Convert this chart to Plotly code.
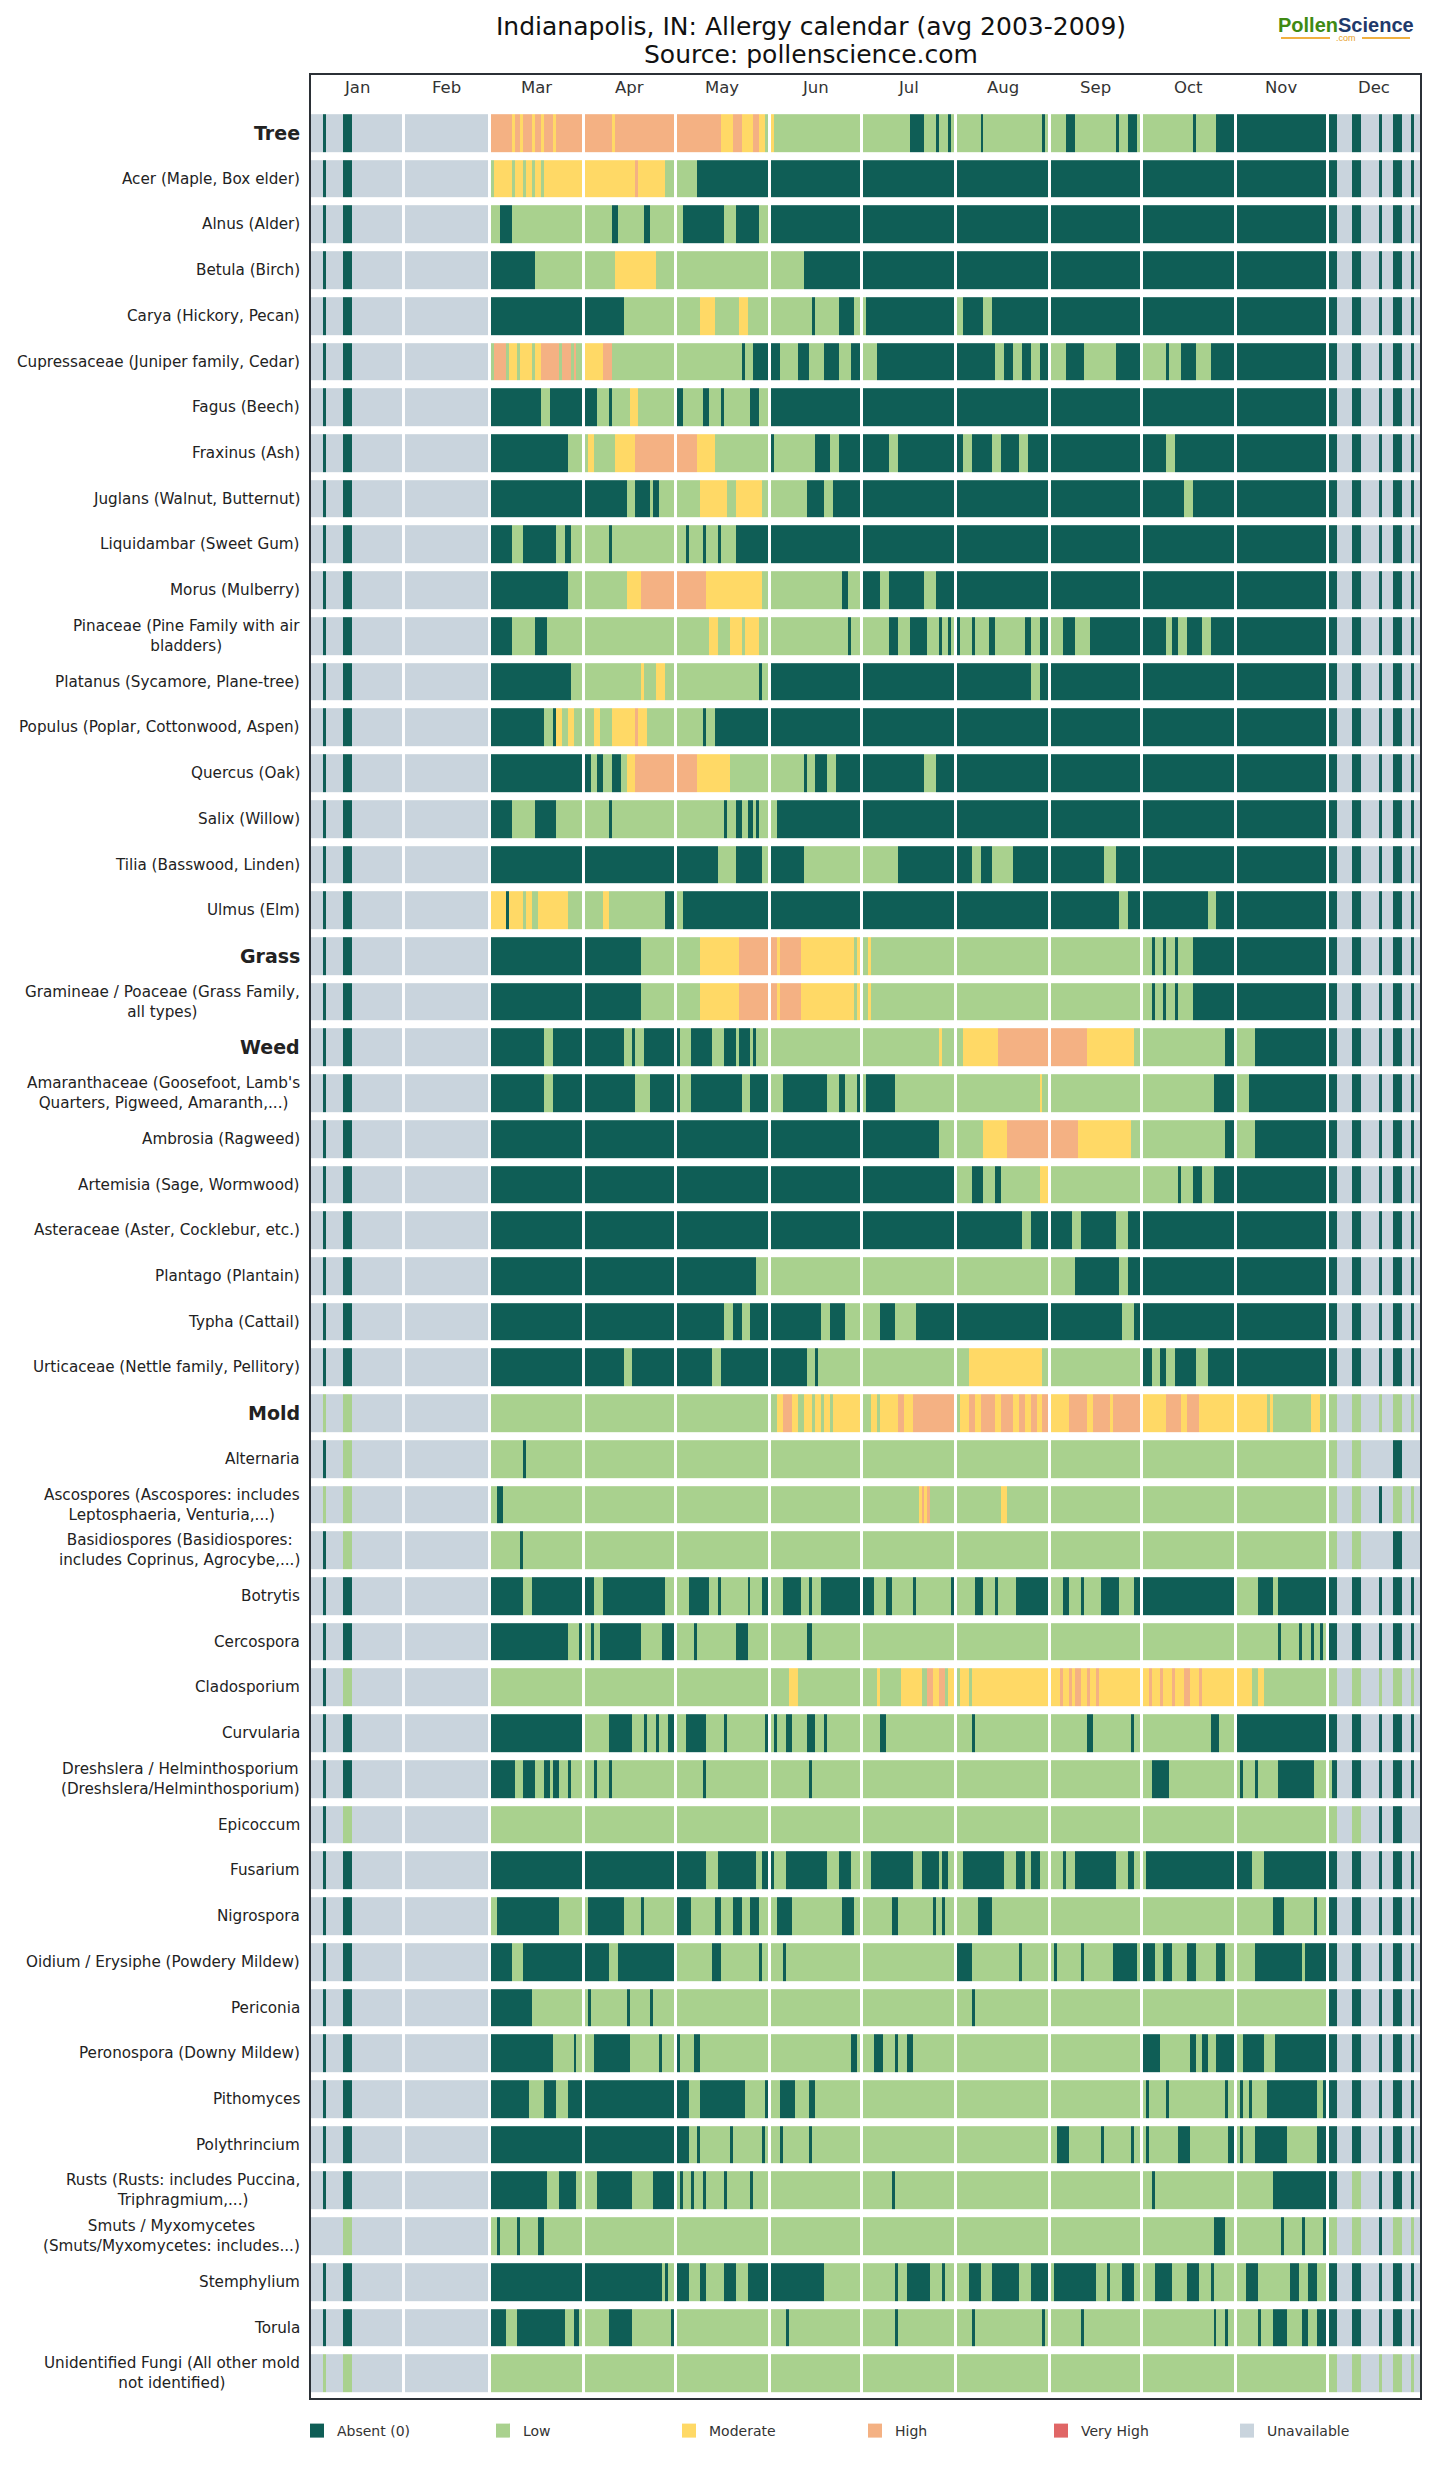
import plotly.graph_objects as go

# ---------------- data ----------------
month_names = ["Jan", "Feb", "Mar", "Apr", "May", "Jun", "Jul", "Aug", "Sep", "Oct", "Nov", "Dec"]
month_days = [31, 28, 31, 30, 31, 30, 31, 31, 30, 31, 30, 31]

level_names = ["Absent (0)", "Low", "Moderate", "High", "Very High", "Unavailable"]
level_codes = ["A", "L", "M", "H", "V", "U"]
level_colors = ["#0f5e56", "#a9d18e", "#ffd966", "#f4b183", "#e06666", "#c9d4dd"]

group_names = ["Tree", "Grass", "Weed", "Mold"]

tree_labels = [
    "Tree", "Acer (Maple, Box elder)", "Alnus (Alder)", "Betula (Birch)", "Carya (Hickory, Pecan)",
    "Cupressaceae (Juniper family, Cedar)", "Fagus (Beech)", "Fraxinus (Ash)", "Juglans (Walnut, Butternut)",
    "Liquidambar (Sweet Gum)", "Morus (Mulberry)", "Pinaceae (Pine Family with air<br>bladders)",
    "Platanus (Sycamore, Plane-tree)", "Populus (Poplar, Cottonwood, Aspen)", "Quercus (Oak)",
    "Salix (Willow)", "Tilia (Basswood, Linden)", "Ulmus (Elm)",
]
grass_labels = ["Grass", "Gramineae / Poaceae (Grass Family,<br>all types)"]
weed_labels = [
    "Weed", "Amaranthaceae (Goosefoot, Lamb's<br>Quarters, Pigweed, Amaranth,...)", "Ambrosia (Ragweed)",
    "Artemisia (Sage, Wormwood)", "Asteraceae (Aster, Cocklebur, etc.)", "Plantago (Plantain)",
    "Typha (Cattail)", "Urticaceae (Nettle family, Pellitory)",
]
mold_labels = [
    "Mold", "Alternaria", "Ascospores (Ascospores: includes<br>Leptosphaeria, Venturia,...)",
    "Basidiospores (Basidiospores:<br>includes Coprinus, Agrocybe,...)", "Botrytis", "Cercospora",
    "Cladosporium", "Curvularia", "Dreshslera / Helminthosporium<br>(Dreshslera/Helminthosporium)",
    "Epicoccum", "Fusarium", "Nigrospora", "Oidium / Erysiphe (Powdery Mildew)", "Periconia",
    "Peronospora (Downy Mildew)", "Pithomyces", "Polythrincium",
    "Rusts (Rusts: includes Puccina,<br>Triphragmium,...)", "Smuts / Myxomycetes<br>(Smuts/Myxomycetes: includes...)",
    "Stemphylium", "Torula", "Unidentified Fungi (All other mold<br>not identified)",
]

# daily levels, run-length per month (A=absent, L=low, M=moderate, H=high, V=very high, U=unavailable)
tree_runs = [
    "U4 A1 U6 A3 U17|U28|H7 M1 H2 M1 H3 M1 H2 M1 H3 M1 H9|H9 M1 H20|H15 M4 H3 M4 H2 M2 L1|M1 L29|L16 A5 L4 A1 L3 A1 L1|L8 A1 L20 A1 L1|L5 A3 L14 A1 L3 A3 L1|L17 A1 L7 A6|A30|A3 U5 A3 U6 A1 U4 A3 U3 A1 U2",
    "U4 A1 U6 A3 U17|U28|L1 M6 L1 M3 L1 M2 L1 M2 L1 M13|M17 H1 M9 L3|L7 A24|A30|A31|A31|A30|A31|A30|A3 U5 A3 U6 A1 U4 A3 U3 A1 U2",
    "U4 A1 U6 A3 U17|U28|L3 A4 L24|L9 A2 L9 A2 L8|L2 A14 L4 A8 L3|A30|A31|A31|A30|A31|A30|A3 U5 A3 U6 A1 U4 A3 U3 A1 U2",
    "U4 A1 U6 A3 U17|U28|A15 L16|L10 M14 L6|L31|L11 A19|A31|A31|A30|A31|A30|A3 U5 A3 U6 A1 U4 A3 U3 A1 U2",
    "U4 A1 U6 A3 U17|U28|A31|A13 L17|L8 M5 L8 M3 L7|L14 A1 L8 A5 L2|L1 A30|L2 A7 L3 A19|A30|A31|A30|A3 U5 A3 U6 A1 U4 A3 U3 A1 U2",
    "U4 A1 U6 A3 U17|U28|L1 H4 L1 M3 L1 M4 L1 M2 H6 L1 H3 L1 H1 L2|M6 H3 L21|L22 A1 L3 A5|A3 L6 A4 L5 A5 L4 A3|L5 A26|A13 L3 A3 L3 A3 L3 A3|L5 A6 L11 A8|L8 A1 L4 A5 L5 A8|A30|A3 U5 A3 U6 A1 U4 A3 U3 A1 U2",
    "U4 A1 U6 A3 U17|U28|A17 L3 A11|A4 L4 A1 L6 M3 L12|A2 L7 A2 L4 A1 L9 A3 L3|A30|A31|A31|A30|A31|A30|A3 U5 A3 U6 A1 U4 A3 U3 A1 U2",
    "U4 A1 U6 A3 U17|U28|A26 L5|L1 M2 L7 M7 H13|H7 M6 L18|A1 L14 A5 L3 A7|A9 L3 A19|A2 L3 A7 L3 A6 L3 A7|A30|A8 L3 A20|A30|A3 U5 A3 U6 A1 U4 A3 U3 A1 U2",
    "U4 A1 U6 A3 U17|U28|A31|A14 L3 A5 L1 A2 L5|L8 M9 L3 M9 L2|L12 A6 L3 A9|A31|A31|A30|A14 L3 A14|A30|A3 U5 A3 U6 A1 U4 A3 U3 A1 U2",
    "U4 A1 U6 A3 U17|U28|A7 L4 A11 L3 A2 L4|L8 A1 L21|L3 A1 L5 A1 L4 A1 L5 A11|A30|A31|A31|A30|A31|A30|A3 U5 A3 U6 A1 U4 A3 U3 A1 U2",
    "U4 A1 U6 A3 U17|U28|A26 L5|L14 M5 H11|H10 M19 L2|L24 A2 L4|A6 L3 A12 L4 A6|A31|A30|A31|A30|A3 U5 A3 U6 A1 U4 A3 U3 A1 U2",
    "U4 A1 U6 A3 U17|U28|A7 L8 A4 L12|L30|L11 M3 L4 M4 L1 M5 L3|L26 A1 L3|L9 A3 L4 A6 L4 A1 L2 A1 L1|A1 L4 A1 L5 A2 L10 A2 L3 A3|L4 A4 L5 A17|A8 L2 A2 L3 A5 L3 A8|A30|A3 U5 A3 U6 A1 U4 A3 U3 A1 U2",
    "U4 A1 U6 A3 U17|U28|A27 L4|L19 M1 L4 M3 L3|L28 A1 L2|A30|A31|A25 L3 A3|A30|A31|A30|A3 U5 A3 U6 A1 U4 A3 U3 A1 U2",
    "U4 A1 U6 A3 U17|U28|A18 L3 A1 M2 L2 M2 L3|L3 M2 L4 M8 H1 M3 L9|L9 A1 L3 A18|A30|A31|A31|A30|A31|A30|A3 U5 A3 U6 A1 U4 A3 U3 A1 U2",
    "U4 A1 U6 A3 U17|U28|A31|A2 L2 A2 L3 A3 L2 M3 H13|H7 M11 L13|L11 A1 L3 A4 L3 A8|A21 L4 A6|A31|A30|A31|A30|A3 U5 A3 U6 A1 U4 A3 U3 A1 U2",
    "U4 A1 U6 A3 U17|U28|A7 L8 A7 L9|L8 A1 L21|L16 A1 L3 A2 L2 A2 L1 A1 L3|L2 A28|A31|A31|A30|A31|A30|A3 U5 A3 U6 A1 U4 A3 U3 A1 U2",
    "U4 A1 U6 A3 U17|U28|A31|A30|A14 L6 A9 L2|A11 L19|L12 A19|A5 L3 A4 L7 A12|A18 L4 A8|A31|A30|A3 U5 A3 U6 A1 U4 A3 U3 A1 U2",
    "U4 A1 U6 A3 U17|U28|M5 A1 M5 L1 M2 L2 M10 L5|L6 M2 L19 A3|L2 A29|A30|A31|A31|A23 L3 A4|A22 L3 A6|A30|A3 U5 A3 U6 A1 U4 A3 U3 A1 U2",
]
grass_runs = [
    "U4 A1 U6 A3 U17|U28|A31|A19 L11|L8 M13 H10|H2 M1 H7 M18 L1 M1|L2 M1 L28|L31|L30|L3 A1 L3 A1 L3 A1 L5 A14|A30|A3 U5 A3 U6 A1 U4 A3 U3 A1 U2",
    "U4 A1 U6 A3 U17|U28|A31|A19 L11|L8 M13 H10|H2 M1 H7 M18 L1 M1|L2 M1 L28|L31|L30|L3 A1 L3 A1 L3 A1 L5 A14|A30|A3 U5 A3 U6 A1 U4 A3 U3 A1 U2",
]
weed_runs = [
    "U4 A1 U6 A3 U17|U28|A18 L3 A10|A13 L3 A1 L3 A10|A1 L4 A7 L4 A4 L1 A4 L1 A1 L4|L30|L26 M1 L4|L2 M12 H17|H12 M16 L2|L28 A3|L6 A24|A3 U5 A3 U6 A1 U4 A3 U3 A1 U2",
    "U4 A1 U6 A3 U17|U28|A18 L3 A10|A17 L5 A8|A1 L4 A17 L3 A6|L4 A15 L4 A2 L4 A1|L1 A10 L20|L28 M1 L2|L30|L24 A7|L4 A26|A3 U5 A3 U6 A1 U4 A3 U3 A1 U2",
    "U4 A1 U6 A3 U17|U28|A31|A30|A31|A30|A26 L5|L9 M8 H14|H9 M18 L3|L28 A3|L6 A24|A3 U5 A3 U6 A1 U4 A3 U3 A1 U2",
    "U4 A1 U6 A3 U17|U28|A31|A30|A31|A30|A31|L5 A4 L4 A2 L13 M3|L30|L12 A1 L4 A3 L4 A7|A30|A3 U5 A3 U6 A1 U4 A3 U3 A1 U2",
    "U4 A1 U6 A3 U17|U28|A31|A30|A31|A30|A31|A22 L3 A6|A7 L3 A12 L4 A4|A31|A30|A3 U5 A3 U6 A1 U4 A3 U3 A1 U2",
    "U4 A1 U6 A3 U17|U28|A31|A30|A27 L4|L30|L31|L31|L8 A15 L3 A4|A31|A30|A3 U5 A3 U6 A1 U4 A3 U3 A1 U2",
    "U4 A1 U6 A3 U17|U28|A31|A30|A16 L3 A3 L3 A6|A17 L3 A5 L5|L6 A5 L7 A13|A31|A24 L4 A2|A31|A30|A3 U5 A3 U6 A1 U4 A3 U3 A1 U2",
    "U4 A1 U6 A3 U17|U28|A31|A13 L3 A14|A12 L3 A16|A12 L3 A1 L14|L31|L4 M25 L2|L30|A3 L3 A2 L3 A7 L4 A9|A30|A3 U5 A3 U6 A1 U4 A3 U3 A1 U2",
]
mold_runs = [
    "U4 L1 U6 L3 U17|U28|L31|L30|L31|L2 M2 H3 M2 L2 M3 L1 M2 L1 M2 L1 M9|L3 M2 L1 M6 H2 M3 H14|L1 M3 H2 M2 H5 M2 H4 M2 H2 M2 H2 M2 H2|M6 H6 M2 H6 M1 H9|M8 H5 M2 H4 M12|M10 L1 M1 L13 M3 L2|L3 U5 L3 U6 L1 U4 L3 U3 L1 U2",
    "U4 A1 U6 L3 U17|U28|L11 A1 L19|L30|L31|L30|L31|L31|L30|L31|L30|L3 U5 L3 U11 A3 U6",
    "U4 L1 U6 L3 U17|U28|L2 A2 L27|L30|L31|L30|L19 M1 H1 M1 H1 L8|L15 M2 L14|L30|L31|L30|L3 U5 L3 U6 A1 U4 L3 U3 L1 U2",
    "U4 A1 U6 L3 U17|U28|L10 A1 L20|L30|L31|L30|L31|L31|L30|L31|L30|L3 U5 L3 U11 A3 U6",
    "U4 A1 U6 A3 U17|U28|A11 L3 A17|A3 L3 A21 L3|L4 A7 L3 A1 L9 A1 L4 A2|L4 A6 L3 A1 L3 A13|A4 L4 A2 L7 A1 L12 A1|L6 A3 L4 A1 L6 A11|L4 A2 L4 A1 L6 A6 L5 A2|A31|L7 A5 L2 A16|A3 U5 A3 U6 A1 U4 A3 U3 A1 U2",
    "U4 A1 U6 A3 U17|U28|A26 L4 A1|L2 A1 L2 A14 L7 A4|L6 A1 L13 A4 L7|L12 A2 L16|L31|L31|L30|L31|L14 A1 L6 A1 L3 A1 L2 A1 L1|A3 U5 A3 U6 A1 U4 A3 U3 A1 U2",
    "U4 A1 U6 L3 U17|U28|L31|L30|L31|L6 M3 L21|L5 M1 L7 M7 L2 H2 M2 H2 L1 M2|L1 M3 L1 M26|M3 H1 M2 H1 M1 H2 M2 H1 M2 H1 M14|M2 H1 M3 H1 M3 H1 M3 H2 M3 H1 M11|M5 L2 M2 L21|L3 U5 L3 U6 L1 U4 L3 U3 L1 U2",
    "U4 A1 U6 A3 U17|U28|A31|L8 A8 L4 A1 L3 A1 L3 A2|L3 A7 L6 A1 L13 A1|L1 A1 L3 A2 L5 A3 L3 A1 L11|L6 A2 L23|L5 A1 L25|L12 A2 L13 A1 L2|L23 A3 L5|A30|A3 U5 A3 U6 A1 U4 A3 U3 A1 U2",
    "U4 A1 U6 A3 U17|U28|A8 L3 A4 L3 A2 L1 A2 L3 A1 L4|L3 A1 L4 A1 L21|L9 A1 L21|L13 A1 L16|L31|L31|L30|L3 A6 L22|L1 A1 L4 A1 L7 A12 L4|L1 A2 U5 A3 U6 A1 U4 A3 U3 A1 U2",
    "U4 A1 U6 L3 U17|U28|L31|L30|L31|L30|L31|L31|L30|L31|L30|L3 U5 L3 U6 A1 U4 A3 U6",
    "U4 A1 U6 A3 U17|U28|A31|A30|A10 L4 A13 L2 A2|A1 L4 A14 L4 A4 L3|L3 A14 L3 A6 L1 A2 L2|L2 A14 L4 A3 L2 A3 L3|L4 A1 L3 A14 L4 A2 L2|L1 A30|A5 L4 A21|A3 U5 A3 U6 A1 U4 A3 U3 A1 U2",
    "U4 A1 U6 A3 U17|U28|L2 A21 L8|L1 A12 L6 A1 L10|A5 L8 A2 L4 A3 L3 A3 L3|L2 A5 L17 A4 L2|L10 A2 L12 A1 L2 A1 L3|L7 A5 L19|L30|L31|L12 A4 L10 A1 L3|A3 U5 A3 U6 A1 U4 A3 U3 A1 U2",
    "U4 A1 U6 A3 U17|U28|A7 L4 A20|A8 L3 A19|L12 A3 L13 A1 L2|L4 A1 L25|L31|A5 L16 A1 L9|L1 A1 L8 A1 L10 A8 L1|A4 L3 A3 L5 A3 L7 A3 L3|L6 A16 L1 A7|A3 U5 A3 U6 A1 U4 A3 U3 A1 U2",
    "U4 A1 U6 A3 U17|U28|A14 L17|L1 A1 L12 A1 L7 A1 L7|L31|L30|L31|L5 A1 L25|L30|L31|L30|A3 U5 A3 U6 A1 U4 A3 U3 A1 U2",
    "U4 A1 U6 A3 U17|U28|A21 L7 A1 L2|L3 A12 L10 A1 L4|A1 L5 A2 L23|L27 A2 L1|L4 A3 L4 A1 L3 A2 L14|L31|L30|A6 L10 A2 L2 A2 L3 A6|L2 A7 L4 A17|A3 U5 A3 U6 A1 U4 A3 U3 A1 U2",
    "U4 A1 U6 A3 U17|U28|A13 L5 A4 L4 A5|A30|A4 L4 A15 L7 A1|L3 A5 L5 A2 L15|L31|L31|L30|L1 A1 L6 A1 L19 A1 L2|L1 A1 L2 A1 L5 A17 L2 A1|A3 U5 A3 U6 A1 U4 A3 U3 A1 U2",
    "U4 A1 U6 A3 U17|U28|A31|A30|A4 L3 A1 L10 A1 L10 A1 L1|L3 A1 L9 A1 L16|L31|L31|L2 A4 L11 A1 L9 A1 L2|L1 A1 L10 A4 L13 A2|L1 A1 L4 A11 L10 A3|A3 U5 A3 U6 A1 U4 A3 U3 A1 U2",
    "U4 A1 U6 A3 U17|U28|A19 L4 A6 L2|L4 A12 L7 A7|L1 A1 L3 A1 L3 A1 L6 A1 L8 A1 L5|L30|L10 A1 L20|L31|L30|L3 A1 L27|L12 A18|A3 U5 L3 U6 A1 U4 A3 U3 A1 U2",
    "U4 U1 U6 L3 U17|U28|L2 A1 L6 A1 L6 A2 L13|L30|L31|L30|L31|L31|L30|L24 A4 L3|L15 A1 L6 A1 L6 A1|L3 U5 L3 U6 A1 U4 L3 U3 L1 U2",
    "U4 A1 U6 A3 U17|U28|A31|A26 L1 A1 L2|A4 L4 A2 L6 A4 L4 A7|A18 L12|L11 A1 L3 A8 L4 A1 L3|L4 A4 L4 A9 L4 A6|L1 A14 L4 A1 L4 A4 L2|L4 A6 L5 A4 L4 A1 L7|L3 A4 L11 A3 L3 A3 L3|A3 U5 A3 U6 A1 U4 A3 U3 A1 U2",
    "U4 A1 U6 A3 U17|U28|A5 L4 A16 L3 A2 L1|L8 A8 L13 A1|L31|L5 A1 L24|L11 A1 L19|L5 A1 L23 A1 L1|L10 A1 L19|L24 A1 L3 A1 L2|L7 A1 L4 A5 L5 A2 L3 A3|A3 U5 A3 U6 A1 U4 A3 U3 A1 U2",
    "U4 L1 U6 L3 U17|U28|L31|L30|L31|L30|L31|L31|L30|L31|L30|L3 U5 L3 U6 L1 U4 L3 U3 L1 U2",
]

# ---------------- build matrix ----------------
labels = tree_labels + grass_labels + weed_labels + mold_labels
runs = tree_runs + grass_runs + weed_runs + mold_runs
code_index = {c: i for i, c in enumerate(level_codes)}


def expand_row(row):
    cols = []
    for m, seg in enumerate(row.split("|")):
        days = []
        for tok in seg.split():
            days += [code_index[tok[0]]] * int(tok[1:])
        n = month_days[m]
        if len(days) < n:
            days += [days[-1]] * (n - len(days))
        days = days[:n]
        if m > 0:
            cols.append(None)  # white gap column between months
        cols += days
    return cols


z = [expand_row(r) for r in runs]
ncols = len(z[0])
nrows = len(z)

# month label positions (column index of month centre)
month_centers = []
start = 0
for m, d in enumerate(month_days):
    month_centers.append(start + (d - 1) / 2)
    start += d + 1

# discrete colour scale
nlev = len(level_colors)
colorscale = []
for i, c in enumerate(level_colors):
    colorscale.append([i / nlev, c])
    colorscale.append([(i + 1) / nlev, c])

fig = go.Figure()
fig.add_trace(go.Heatmap(
    z=z, x=list(range(ncols)), y=list(range(nrows)),
    colorscale=colorscale, zmin=-0.5, zmax=nlev - 0.5,
    showscale=False, ygap=8, xgap=0, hoverinfo="skip", zsmooth=False,
))

# legend entries
for name, col in zip(level_names, level_colors):
    fig.add_trace(go.Scatter(
        x=[None], y=[None], mode="markers", name=name,
        marker=dict(symbol="square", size=14, color=col, line=dict(width=0)),
    ))

W, H = 1449, 2470
ML, MR, MT, MB = 311, 29, 75, 72
PH = H - MT - MB
PW = W - ML - MR
pitch = 45.72
y_top = -(133 - MT) / pitch
y_bot = y_top + PH / pitch

annotations = []
for i, lab in enumerate(labels):
    if lab in group_names:
        txt = "<b>%s</b>" % lab
        fsize = 19
    else:
        txt = lab
        fsize = 15.2
    annotations.append(dict(
        x=0, xref="paper", y=i, yref="y", text=txt, showarrow=False,
        xanchor="right", yanchor="middle", xshift=-9, align="center",
        font=dict(family="DejaVu Sans", size=fsize, color="#222222"),
    ))

for name, cx in zip(month_names, month_centers):
    annotations.append(dict(
        x=cx, xref="x", y=1 - 13 / PH, yref="paper", text=name, showarrow=False,
        xanchor="center", yanchor="middle",
        font=dict(family="DejaVu Sans", size=16.5, color="#333333"),
    ))

title_x = (811 - ML) / PW
annotations.append(dict(
    x=title_x, xref="paper", y=1 + (MT - 27) / PH, yref="paper",
    text="Indianapolis, IN: Allergy calendar (avg 2003-2009)", showarrow=False,
    xanchor="center", yanchor="middle", font=dict(family="DejaVu Sans", size=25, color="#111111"),
))
annotations.append(dict(
    x=title_x, xref="paper", y=1 + (MT - 55) / PH, yref="paper",
    text="Source: pollenscience.com", showarrow=False,
    xanchor="center", yanchor="middle", font=dict(family="DejaVu Sans", size=25, color="#111111"),
))
# logo
logo_x = (1346 - ML) / PW
annotations.append(dict(
    x=logo_x, xref="paper", y=1 + (MT - 25) / PH, yref="paper",
    text="<b><span style='color:#3f8a12'>Pollen</span><span style='color:#1f3a6b'>Science</span></b>",
    showarrow=False, xanchor="center", yanchor="middle",
    font=dict(family="Liberation Sans", size=20),
))
annotations.append(dict(
    x=logo_x, xref="paper", y=1 + (MT - 38) / PH, yref="paper",
    text=".com", showarrow=False, xanchor="center", yanchor="middle",
    font=dict(family="Liberation Sans", size=9, color="#e8a02a"),
))

shapes = [
    dict(type="line", xref="paper", yref="paper",
         x0=(1281 - ML) / PW, x1=(1330 - ML) / PW, y0=1 + (MT - 38) / PH, y1=1 + (MT - 38) / PH,
         line=dict(color="#f0b040", width=2)),
    dict(type="line", xref="paper", yref="paper",
         x0=(1362 - ML) / PW, x1=(1410 - ML) / PW, y0=1 + (MT - 38) / PH, y1=1 + (MT - 38) / PH,
         line=dict(color="#f0b040", width=2)),
]

fig.update_layout(
    width=W, height=H,
    margin=dict(l=ML, r=MR, t=MT, b=MB, pad=0),
    paper_bgcolor="white", plot_bgcolor="white",
    font=dict(family="DejaVu Sans", color="#333333"),
    annotations=annotations, shapes=shapes,
    showlegend=True,
    legend=dict(
        orientation="h", x=-14 / PW, xanchor="left", y=-(2431 - (H - MB)) / PH, yanchor="middle",
        entrywidth=141, entrywidthmode="pixels",
        font=dict(family="DejaVu Sans", size=14, color="#333333"),
        bgcolor="rgba(0,0,0,0)", borderwidth=0, itemclick=False,
    ),
    xaxis=dict(range=[-0.5, ncols - 0.5], showticklabels=False, showgrid=False, zeroline=False,
               showline=True, mirror=True, linecolor="#2b3036", linewidth=2, ticks="", fixedrange=True),
    yaxis=dict(range=[y_bot, y_top], showticklabels=False, showgrid=False, zeroline=False,
               showline=True, mirror=True, linecolor="#2b3036", linewidth=2, ticks="", fixedrange=True),
)

fig.write_html("out.html")
